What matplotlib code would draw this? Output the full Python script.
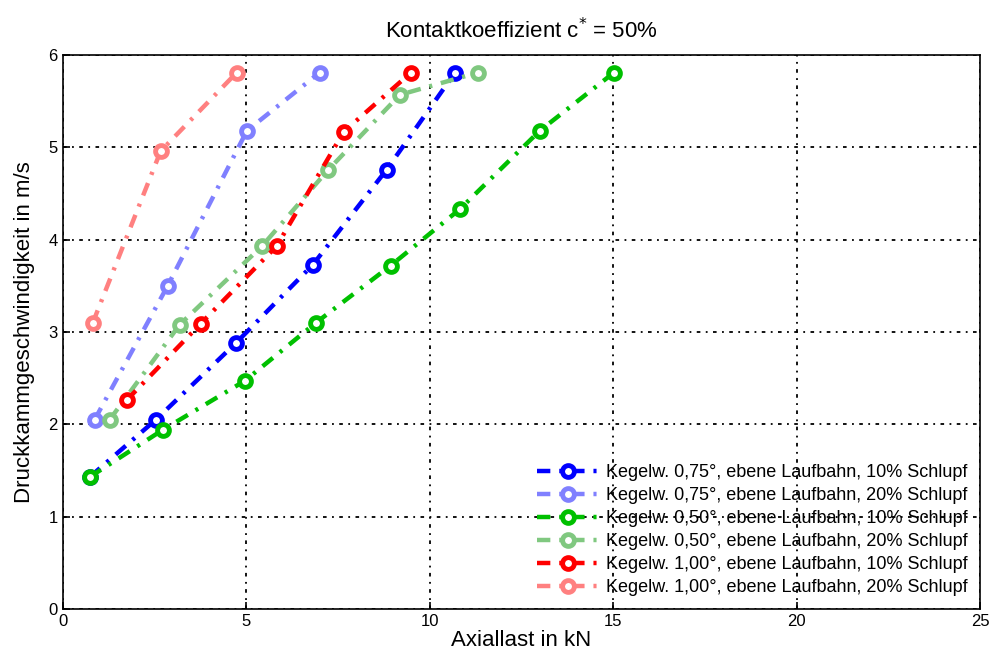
import matplotlib
matplotlib.use("Agg")
import matplotlib.pyplot as plt

plt.rcParams['font.family'] = ['Liberation Sans', 'DejaVu Sans']

# Druckkammgeschwindigkeit in m/s
v_075_10 = [1.43, 2.05, 2.88, 3.73, 4.76, 5.81]
v_075_20 = [2.05, 3.50, 5.18, 5.81]
v_050_10 = [1.43, 1.94, 2.47, 3.10, 3.72, 4.33, 5.18, 5.81]
v_050_20 = [2.05, 3.08, 3.93, 4.75, 5.57, 5.81]
v_100_10 = [2.26, 3.09, 3.93, 5.17, 5.81]
v_100_20 = [3.10, 4.96, 5.81]

# Axiallast in kN
f_075_10 = [0.74, 2.54, 4.72, 6.82, 8.83, 10.69]
f_075_20 = [0.87, 2.86, 5.02, 7.00]
f_050_10 = [0.74, 2.73, 4.96, 6.90, 8.94, 10.82, 13.00, 15.02]
f_050_20 = [1.28, 3.19, 5.43, 7.22, 9.19, 11.31]
f_100_10 = [1.74, 3.76, 5.83, 7.66, 9.49]
f_100_20 = [0.82, 2.67, 4.74]

series = [
    (f_075_10, v_075_10, '#0000ff', u'Kegelw. 0,75°, ebene Laufbahn, 10% Schlupf'),
    (f_075_20, v_075_20, '#8080ff', u'Kegelw. 0,75°, ebene Laufbahn, 20% Schlupf'),
    (f_050_10, v_050_10, '#00c000', u'Kegelw. 0,50°, ebene Laufbahn, 10% Schlupf'),
    (f_050_20, v_050_20, '#80c880', u'Kegelw. 0,50°, ebene Laufbahn, 20% Schlupf'),
    (f_100_10, v_100_10, '#ff0000', u'Kegelw. 1,00°, ebene Laufbahn, 10% Schlupf'),
    (f_100_20, v_100_20, '#ff8080', u'Kegelw. 1,00°, ebene Laufbahn, 20% Schlupf'),
]

fig = plt.figure(figsize=(9.95, 6.64), dpi=100)
ax = fig.add_axes([0.063, 0.083, 0.922, 0.834])

for x, y, c, lab in series:
    ax.plot(x, y, linestyle=(0, (3, 2, 0.7, 2)), color=c, linewidth=3.2, marker='o',
            markersize=8.5, markerfacecolor='white', markeredgecolor=c,
            markeredgewidth=3.5, label=lab)

ax.set_xlim(0, 25)
ax.set_ylim(0, 6)
ax.set_xticks(range(0, 26, 5))
ax.set_yticks(range(0, 7))
ax.grid(True, color='black', linestyle=(0, (2, 3, 1, 3)), linewidth=1.3)
ax.tick_params(direction='in', labelsize=12, length=5, width=1.2, top=False, right=False)
for s in ax.spines.values():
    s.set_linewidth(1.2)

ax.set_xlabel('Axiallast in kN', fontsize=16, labelpad=1)
ax.set_ylabel('Druckkammgeschwindigkeit in m/s', fontsize=16, labelpad=10)
ax.set_title(u'Kontaktkoeffizient c$^{*}$ = 50%', fontsize=16, pad=12)

leg = ax.legend(loc='lower right', fontsize=13, frameon=False,
                handlelength=3.4, handletextpad=0.4, labelspacing=0.33,
                borderaxespad=0.3)

fig.savefig('out.png', dpi=100)
